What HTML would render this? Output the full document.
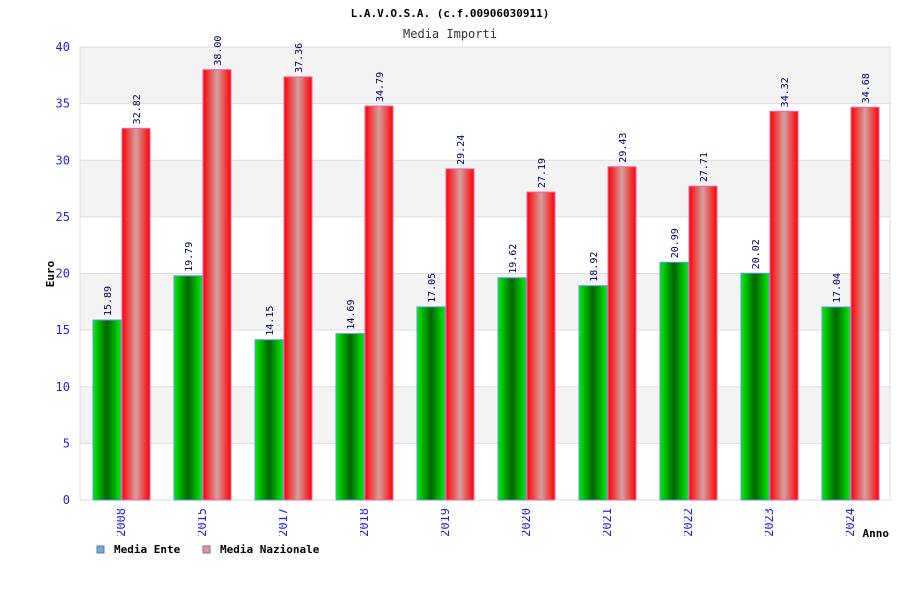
<!DOCTYPE html>
<html><head><meta charset="utf-8"><style>
body{margin:0;background:#fff}
svg text{font-family:"DejaVu Sans Mono","Liberation Mono",monospace}
</style></head><body>
<svg width="900" height="600" xmlns="http://www.w3.org/2000/svg">
<defs>
<linearGradient id="gg" x1="0" x2="1" y1="0" y2="0"><stop offset="0" stop-color="#00ee00"/><stop offset="0.5" stop-color="#006400"/><stop offset="1" stop-color="#00ee00"/></linearGradient>
<linearGradient id="rg" x1="0" x2="1" y1="0" y2="0"><stop offset="0" stop-color="#ff0000"/><stop offset="0.5" stop-color="#d4a0a0"/><stop offset="1" stop-color="#ff0000"/></linearGradient>
<clipPath id="cp"><rect x="0" y="500" width="900" height="38"/></clipPath>
<clipPath id="cv"><rect x="0" y="38" width="900" height="470"/></clipPath>
</defs>
<text x="450" y="17" text-anchor="middle" font-size="11" font-weight="bold" fill="#000">L.A.V.O.S.A. (c.f.00906030911)</text>
<text x="450" y="38" text-anchor="middle" font-size="12" fill="#333">Media Importi</text>
<g id="plot"></g>
<text x="54" y="274" transform="rotate(-90 54 274)" text-anchor="middle" font-size="11" font-weight="bold" fill="#000">Euro</text>
<text x="889" y="537" text-anchor="end" font-size="11" font-weight="bold" fill="#000">Anno</text>
<g>
<rect x="97" y="546" width="7" height="7" fill="#66aaee" stroke="#777"/>
<text x="114" y="553" font-size="11" font-weight="bold">Media Ente</text>
<rect x="203" y="546" width="7" height="7" fill="#ee88bb" stroke="#777"/>
<text x="220" y="553" font-size="11" font-weight="bold">Media Nazionale</text>
</g>
</svg>
<script>
const categories=["2008","2015","2017","2018","2019","2020","2021","2022","2023","2024"];
const enteValues=[15.89,19.79,14.15,14.69,17.05,19.62,18.92,20.99,20.02,17.04];
const nazValues=[32.82,38.00,37.36,34.79,29.24,27.19,29.43,27.71,34.32,34.68];
const enteLabels=["15.89","19.79","14.15","14.69","17.05","19.62","18.92","20.99","20.02","17.04"];
const nazLabels=["32.82","38.00","37.36","34.79","29.24","27.19","29.43","27.71","34.32","34.68"];
const yTicks=[0,5,10,15,20,25,30,35,40];
const NS="http://www.w3.org/2000/svg";
const L=80,R=890,T=47,B=500,YMAX=40;
const y=v=>B-(v/YMAX)*(B-T);
const gw=(R-L)/categories.length;
const gx=i=>L+i*gw;
const g=document.getElementById('plot');
function mk(t,a){const e=document.createElementNS(NS,t);for(const k in a)e.setAttribute(k,a[k]);g.appendChild(e);return e;}
for(let i=0;i<yTicks.length-1;i++){
 const band=mk('rect',{x:L,y:y(yTicks[i+1]),width:R-L,height:y(yTicks[i])-y(yTicks[i+1]),fill:(i%2==1)?'#f3f3f3':'#ffffff'});
 
 
}
yTicks.forEach(v=>{
 const l=mk('line',{x1:L,x2:R,y1:y(v),y2:y(v),stroke:'#dddddd'});
 
 
 const t=mk('text',{x:L-10,y:y(v)+4,'text-anchor':'end','font-size':12,fill:'#2222ee','font-family':'DejaVu Sans, sans-serif'});
 t.textContent=v;
 
 
});
const frame=mk('rect',{x:L,y:T,width:R-L,height:B-T,fill:'none',stroke:'#dddddd'});


categories.forEach((c,i)=>{
 const x0=gx(i);
 const vals=[enteValues[i],nazValues[i]],labs=[enteLabels[i],nazLabels[i]];
 [0,1].forEach(s=>{
  const bx=x0+13+s*29,bw=28,top=y(vals[s]);
  const r=mk('rect',{x:bx,y:top,width:bw,height:B-top,fill:s?'url(#rg)':'url(#gg)',stroke:s?'#ee66aa':'#5599ee','stroke-width':1});
  
  
  const tx=bx+bw/2+4,ty=top-4;
  const t=mk('text',{x:tx,y:ty,transform:`rotate(-90 ${tx} ${ty})`,'font-size':10,fill:'#000066','font-family':'DejaVu Sans, sans-serif','clip-path':'url(#cv)'});
  t.textContent=labs[s];
  
  
 });
 const lx=x0+41+4,ly=508;
 const t=mk('text',{x:lx,y:ly,transform:`rotate(-90 ${lx} ${ly})`,'text-anchor':'end','font-size':12,fill:'#2222ee','clip-path':'url(#cp)'});
 t.textContent=c;
 
 
});
</script>
</body></html>
